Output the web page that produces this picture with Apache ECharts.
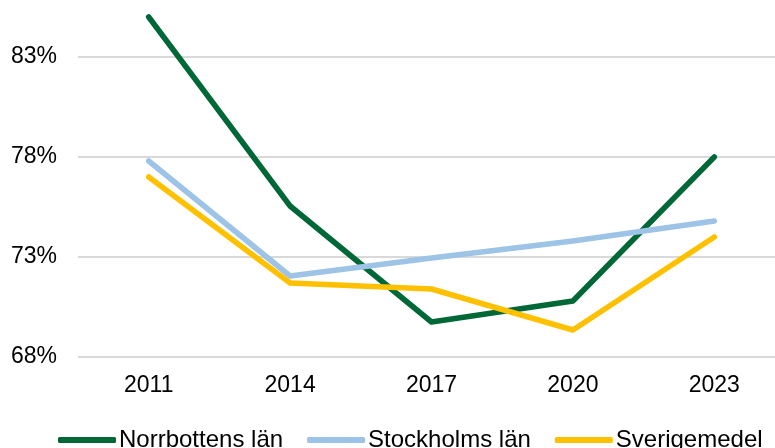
<!DOCTYPE html>
<html>
<head>
<meta charset="utf-8">
<script src="https://cdn.jsdelivr.net/npm/echarts@6/dist/echarts.min.js"></script>
<style>html,body{margin:0;padding:0;background:#fff;overflow:hidden}#wrap{width:775px;height:448px;overflow:hidden;position:relative}#c{width:775px;height:491px;position:absolute;left:0;top:-43px}</style>
</head>
<body>
<div id="wrap"><div id="c"></div></div>
<script>
var categories = ['2011', '2014', '2017', '2020', '2023'];
var norrbotten = [85.0, 75.55, 69.75, 70.8, 78.0];
var stockholm = [77.8, 72.05, 72.95, 73.8, 74.8];
var sverige = [77.0, 71.7, 71.4, 69.35, 74.0];
var seriesNames = ['Norrbottens län', 'Stockholms län', 'Sverigemedel'];
var colors = ['#006837', '#9DC3E6', '#FFC000'];

var chart = echarts.init(document.getElementById('c'), null, {renderer: 'canvas'});
function mk(name, data, color) {
  return {
    name: name, type: 'line', data: data, symbol: 'none', smooth: false,
    lineStyle: {width: 5.5, color: color, cap: 'round', join: 'round'},
    itemStyle: {color: color},
    animation: false
  };
}
chart.setOption({
  animation: false,
  color: colors,
  grid: {left: 78, width: 707, top: 0, height: 400, containLabel: false, outerBoundsMode: 'none'},
  xAxis: {
    type: 'category', data: categories, boundaryGap: true,
    axisLine: {show: false}, axisTick: {show: false},
    axisLabel: {fontFamily: 'Liberation Sans, Arial, sans-serif', fontSize: 23, color: '#000', margin: 17}
  },
  yAxis: {
    type: 'value', min: 68, max: 88, interval: 5,
    axisLine: {show: false}, axisTick: {show: false},
    axisLabel: {fontFamily: 'Liberation Sans, Arial, sans-serif', fontSize: 23, color: '#000', margin: 21,
      formatter: function (v) { return v + '%'; }},
    splitLine: {lineStyle: {color: '#d9d9d9', width: 2}}
  },
  legend: {
    left: 53, top: 466, itemGap: 24, itemWidth: 58, itemHeight: 6, icon: 'roundRect',
    textStyle: {fontFamily: 'Liberation Sans, Arial, sans-serif', fontSize: 24, color: '#000', padding: [0, 0, 0, -2]},
    data: seriesNames
  },
  series: [
    mk(seriesNames[0], norrbotten, colors[0]),
    mk(seriesNames[1], stockholm, colors[1]),
    mk(seriesNames[2], sverige, colors[2])
  ]
});
</script>
</body>
</html>
